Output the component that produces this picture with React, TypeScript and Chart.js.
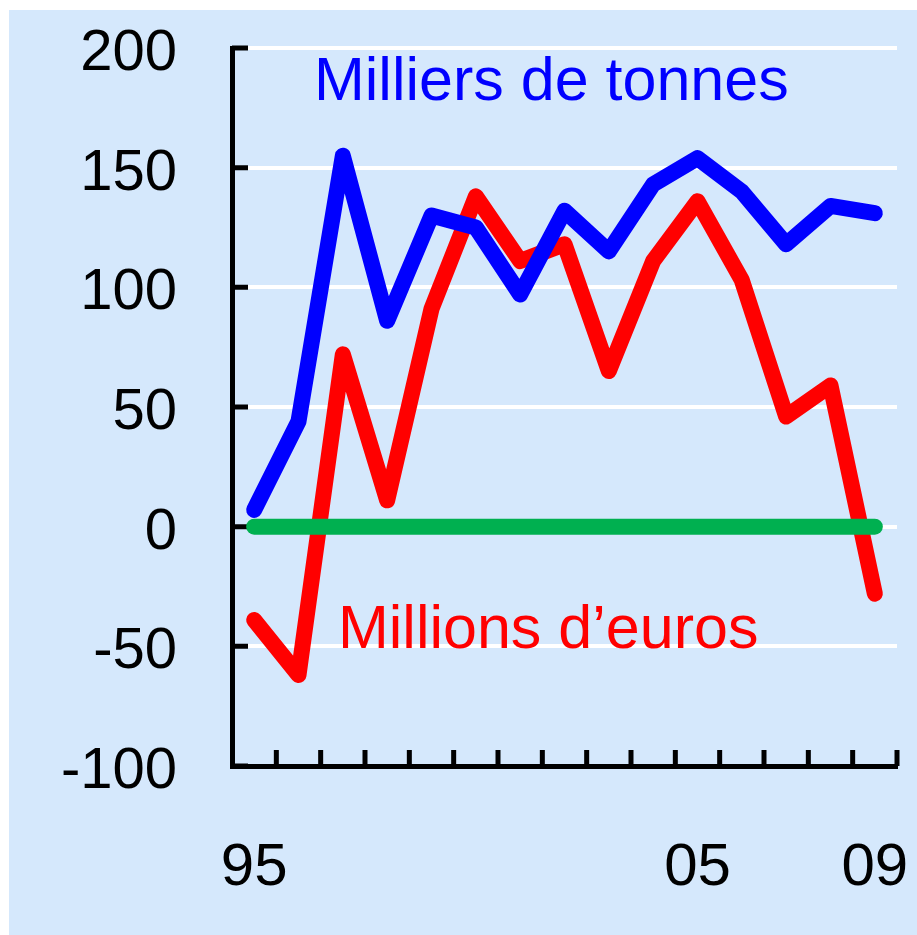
import React, { useEffect, useRef } from "react";
import { Chart, registerables } from "chart.js";

Chart.register(...registerables);

const categories = ["95", "96", "97", "98", "99", "00", "01", "02", "03", "04", "05", "06", "07", "08", "09"];
const shownLabels = ["95", "05", "09"];
const tonnes = [7, 44, 155, 86, 130, 125, 97, 132, 115, 143, 154, 140, 118, 134, 131];
const euros = [-39, -62, 72, 11, 91, 138, 111, 118, 65, 111, 136, 103, 46, 59, -28];
const zeroLine = [0, 0, 0, 0, 0, 0, 0, 0, 0, 0, 0, 0, 0, 0, 0];
const yMin = -100;
const yMax = 200;
const yStep = 50;
const tonnesLabel = "Milliers de tonnes";
const eurosLabel = "Millions d\u2019euros";

const FONT = "'Liberation Sans', Arial, sans-serif";

const axisTicks = {
  id: "axisTicks",
  beforeDatasetsDraw(chart: any) {
    const { ctx, chartArea, scales } = chart;
    const x = scales.x;
    const y = scales.y;
    ctx.save();
    ctx.strokeStyle = "#000000";
    ctx.lineWidth = 5;
    ctx.lineCap = "butt";
    ctx.beginPath();
    y.ticks.forEach((t: any) => {
      const py = y.getPixelForValue(t.value);
      ctx.moveTo(chartArea.left, py);
      ctx.lineTo(chartArea.left + 16, py);
    });
    const n = categories.length;
    const step = (x.right - x.left) / n;
    for (let k = 1; k <= n; k++) {
      const px = x.left + k * step;
      ctx.moveTo(px, chartArea.bottom);
      ctx.lineTo(px, chartArea.bottom - 16);
    }
    ctx.stroke();
    ctx.restore();
  },
};

const annotations = {
  id: "annotations",
  afterDatasetsDraw(chart: any) {
    const { ctx, chartArea } = chart;
    ctx.save();
    ctx.font = `61px ${FONT}`;
    ctx.textAlign = "left";
    ctx.textBaseline = "alphabetic";
    ctx.fillStyle = "#0000FF";
    ctx.fillText(tonnesLabel, chartArea.left + 82, chartArea.top + 52);
    ctx.fillStyle = "#FF0000";
    ctx.fillText(eurosLabel, chartArea.left + 106, chartArea.top + 600);
    ctx.restore();
  },
};

const zeroPadding = (scale: any) => {
  scale.paddingTop = 0;
  scale.paddingBottom = 0;
  scale.paddingLeft = 0;
  scale.paddingRight = 0;
};

export default function App() {
  const canvasRef = useRef<HTMLCanvasElement | null>(null);

  useEffect(() => {
    if (!canvasRef.current) return;
    const chart = new Chart(canvasRef.current, {
      type: "line",
      data: {
        labels: categories,
        datasets: [
          {
            label: "zero",
            data: zeroLine,
            borderColor: "#00B050",
            borderWidth: 16,
            pointRadius: 0,
            borderCapStyle: "round",
            borderJoinStyle: "round",
            tension: 0,
            order: 0,
          },
          {
            label: tonnesLabel,
            data: tonnes,
            borderColor: "#0000FF",
            borderWidth: 16,
            pointRadius: 0,
            borderCapStyle: "round",
            borderJoinStyle: "round",
            tension: 0,
            order: 1,
          },
          {
            label: eurosLabel,
            data: euros,
            borderColor: "#FF0000",
            borderWidth: 16,
            pointRadius: 0,
            borderCapStyle: "round",
            borderJoinStyle: "round",
            tension: 0,
            order: 2,
          },
        ],
      },
      options: {
        animation: false,
        responsive: false,
        devicePixelRatio: 1,
        layout: { padding: { top: 38, right: 20, left: 0, bottom: 0 } },
        plugins: {
          legend: { display: false },
          tooltip: { enabled: false },
        },
        scales: {
          x: {
            type: "category",
            offset: true,
            grid: { display: false, drawTicks: false },
            border: { display: true, color: "#000000", width: 5 },
            ticks: {
              autoSkip: false,
              maxRotation: 0,
              minRotation: 0,
              padding: 66,
              color: "#000000",
              font: { family: FONT, size: 60 },
              callback: (_v: any, i: number) =>
                shownLabels.includes(categories[i]) ? categories[i] : "",
            },
            afterFit: (scale: any) => {
              scale.height = 169;
              zeroPadding(scale);
            },
          },
          y: {
            min: yMin,
            max: yMax,
            grid: { color: "#FFFFFF", lineWidth: 4, drawTicks: false },
            border: { display: true, color: "#000000", width: 5 },
            ticks: {
              stepSize: yStep,
              padding: 55,
              labelOffset: 6,
              color: "#000000",
              font: { family: FONT, size: 58 },
            },
            afterFit: (scale: any) => {
              scale.width = 223;
              zeroPadding(scale);
            },
          },
        },
      },
      plugins: [axisTicks, annotations],
    });
    return () => chart.destroy();
  }, []);

  return (
    <div
      style={{
        position: "fixed",
        left: 9,
        top: 10,
        width: 908,
        height: 925,
        background: "#D5E8FC",
      }}
    >
      <canvas ref={canvasRef} width={908} height={925} style={{ display: "block" }} />
    </div>
  );
}
